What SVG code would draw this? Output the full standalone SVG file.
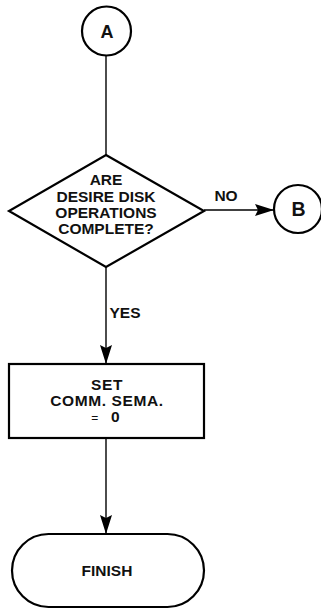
<svg xmlns="http://www.w3.org/2000/svg" width="321" height="609" viewBox="0 0 321 609">
<style>
.shape{fill:#fff;stroke:#000;stroke-width:2.2}
.conn{fill:none;stroke:#000;stroke-width:1.4}
.t{font-family:"Liberation Sans",Arial,sans-serif;font-weight:bold;font-size:15.5px;fill:#111;text-anchor:middle}
.big{font-size:18px}
</style>
<defs>
<marker id="ah" viewBox="0 0 19 12" refX="19" refY="6" markerWidth="19" markerHeight="12" markerUnits="userSpaceOnUse" orient="auto">
<path d="M0,0 L19,6 L0,12 L3,6 Z" fill="#000"/>
</marker>
</defs>
<g id="connectors">
<line class="conn" x1="106" y1="56" x2="106" y2="155"/>
<line class="conn" x1="204" y1="210" x2="274" y2="210" marker-end="url(#ah)"/>
<line class="conn" x1="106" y1="267" x2="106" y2="364" marker-end="url(#ah)"/>
<line class="conn" x1="106" y1="438" x2="106" y2="534" marker-end="url(#ah)"/>
<text class="t" x="226" y="201">NO</text>
<text class="t" x="125" y="318">YES</text>
</g>
<g id="nodeA">
<circle class="shape" cx="106.5" cy="31" r="24.5"/>
<text class="t big" x="107" y="38">A</text>
</g>
<g id="decision">
<polygon class="shape" points="106,155 204,211 106,267 9,211"/>
<text class="t"><tspan x="106" y="185">ARE</tspan><tspan x="106" y="201.5">DESIRE DISK</tspan><tspan x="106" y="218">OPERATIONS</tspan><tspan x="106" y="234">COMPLETE?</tspan></text>
</g>
<g id="nodeB">
<circle class="shape" cx="298" cy="209" r="24"/>
<text class="t" style="font-size:19.5px" x="298.5" y="216">B</text>
</g>
<g id="setBox">
<rect class="shape" x="9" y="364" width="195" height="74"/>
<text class="t" style="letter-spacing:0.6px"><tspan x="107" y="390">SET</tspan><tspan x="107" y="406">COMM. SEMA.</tspan><tspan x="95" y="422" font-weight="normal" font-size="12">=</tspan><tspan x="115.5" y="422">0</tspan></text>
</g>
<g id="finish">
<rect class="shape" x="12" y="534" width="192" height="73" rx="36.5" ry="36.5"/>
<text class="t" x="107" y="576">FINISH</text>
</g>
</svg>
